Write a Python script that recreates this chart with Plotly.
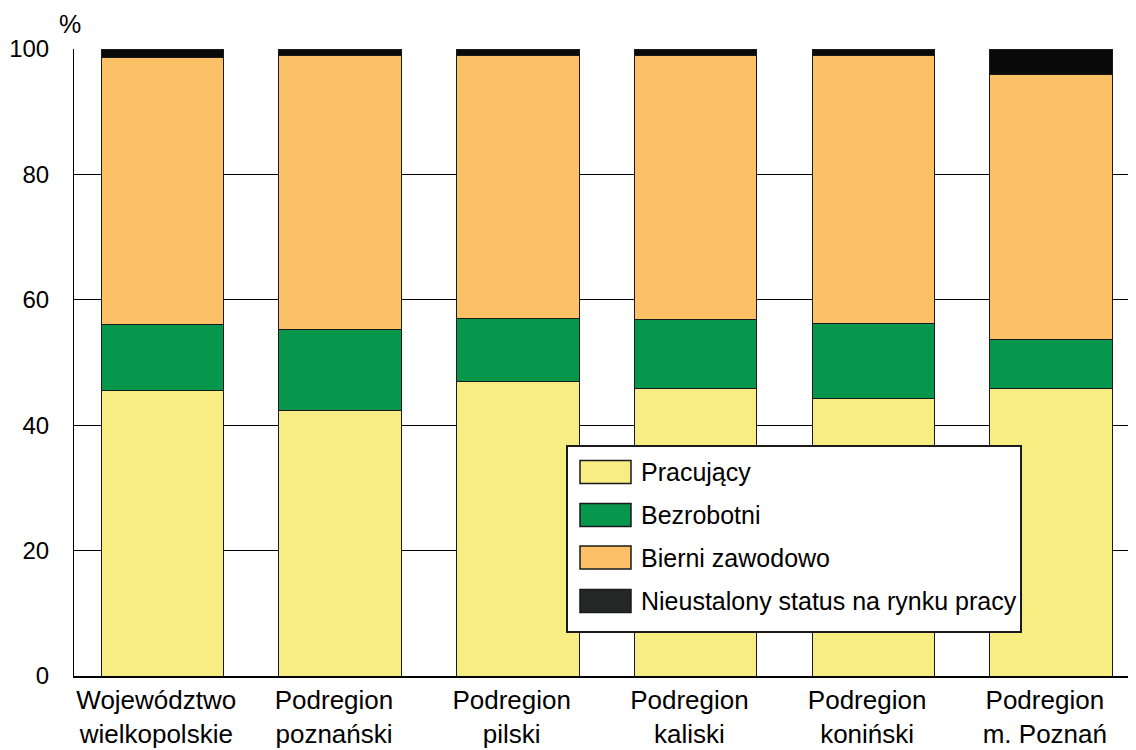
import plotly.graph_objects as go

categories = ["Województwo<br>wielkopolskie", "Podregion<br>poznański", "Podregion<br>pilski",
              "Podregion<br>kaliski", "Podregion<br>koniński", "Podregion<br>m. Poznań"]
pracujacy = [45.5, 42.3, 47.0, 45.8, 44.2, 45.8]
bezrobotni = [10.6, 12.9, 10.0, 11.0, 12.1, 7.9]
bierni = [42.5, 43.7, 42.0, 42.2, 42.6, 42.3]
nieustalony = [1.4, 1.1, 1.0, 1.0, 1.1, 4.0]
series_names = ["Pracujący", "Bezrobotni", "Bierni zawodowo", "Nieustalony status na rynku pracy"]
colors = ["#F8ED82", "#06964C", "#FCC067", "#0a0a0a"]
legend_colors = ["#F8ED82", "#06964C", "#FCC067", "#232826"]
y_ticks = [0, 20, 40, 60, 80, 100]

FONT = "Liberation Sans, Arial, sans-serif"

# plot area geometry (figure pixels; page body adds an 8px offset)
W, H = 1128, 742
L, R, T, B = 66, 0, 41, 74
PW, PH = W - L - R, H - T - B

def px(sx):  # screen x -> paper x
    return (sx - 8 - L) / PW

def py(sy):  # screen y -> paper y
    return (H - B - (sy - 8)) / PH

xs = list(range(len(categories)))
fig = go.Figure()
for i, (name, vals) in enumerate(zip(series_names, [pracujacy, bezrobotni, bierni, nieustalony])):
    fig.add_trace(go.Bar(
        x=xs, y=vals, name=name,
        marker=dict(color=colors[i], line=dict(color="#1a1a1a", width=1)),
        width=0.69, showlegend=False,
    ))

fig.update_layout(
    width=W, height=H,
    barmode="stack",
    plot_bgcolor="white", paper_bgcolor="white",
    margin=dict(l=L, r=R, t=T, b=B, autoexpand=False),
    font=dict(family=FONT, size=22, color="black"),
    xaxis=dict(
        tickmode="array", tickvals=[x - 0.035 for x in xs], ticktext=categories,
        range=[-0.498, 5.478], showgrid=False, ticks="", showline=True,
        linecolor="black", linewidth=2, zeroline=False, automargin=False,
        tickfont=dict(size=26, family=FONT),
    ),
    yaxis=dict(
        range=[0, 100], tickvals=y_ticks, showgrid=True, gridcolor="black", gridwidth=1,
        showline=True, linecolor="black", linewidth=1, ticks="", zeroline=False,
        automargin=False,
        tickfont=dict(size=24, family=FONT), ticklabelstandoff=19,
    ),
)

# legend box
fig.add_shape(type="rect", xref="paper", yref="paper",
              x0=px(567), x1=px(1021), y0=py(632), y1=py(446),
              fillcolor="white", line=dict(color="#1a1a1a", width=2), layer="above")
centers = [472, 515, 557.5, 601]
for name, col, cy in zip(series_names, legend_colors, centers):
    fig.add_shape(type="rect", xref="paper", yref="paper",
                  x0=px(580), x1=px(631), y0=py(cy + 11.5), y1=py(cy - 11.5),
                  fillcolor=col, line=dict(color="#1a1a1a", width=1.5), layer="above")
    fig.add_annotation(text=name, xref="paper", yref="paper", x=px(639), y=py(cy),
                       xanchor="left", yanchor="middle", showarrow=False,
                       font=dict(size=25, family=FONT, color="black"))

fig.add_annotation(text="%", xref="paper", yref="paper", x=px(69.5), y=py(24),
                   xanchor="center", yanchor="middle", showarrow=False,
                   font=dict(size=25, family=FONT))
fig.write_html("out.html")
